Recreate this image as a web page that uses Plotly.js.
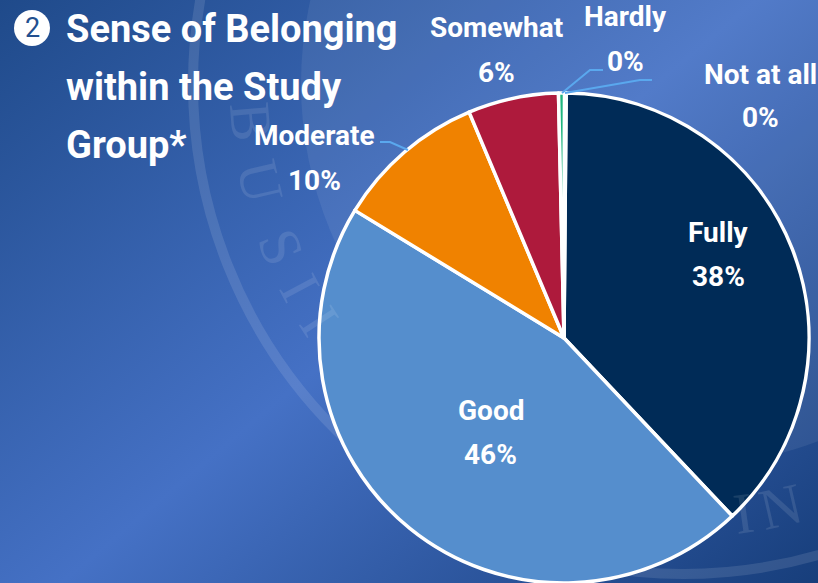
<!DOCTYPE html>
<html>
<head>
<meta charset="utf-8">
<script src="https://cdn.plot.ly/plotly-3.0.1.min.js"></script>
<style>
  html, body { margin: 0; padding: 0; width: 818px; height: 583px; overflow: hidden; }
  body { background: linear-gradient(140deg, #1f4a8a 0%, #4571c5 50%, #173e7b 100%); }
  #chart { width: 818px; height: 583px; }
</style>
</head>
<body>
<div id="chart"></div>
<script>
// Survey responses, clockwise from the top of the pie
const categories = ["Fully", "Good", "Moderate", "Somewhat", "Hardly", "Not at all"];
const shares = [38, 46, 10, 6, 0.4, 0.1];
const sliceColors = ["#002b57", "#558ecd", "#f08200", "#ae1a3c", "#1fb57f", "#e8f0f8"];
const heading = ["Sense of Belonging", "within the Study", "Group*"];
const sealLetters = ["B", "U", "S", "I", "I", "I", "N"];

const W = 818, H = 583;
const FONT = "Roboto, 'Noto Sans', sans-serif";
const px = x => x / W;
const py = y => 1 - y / H;

const textAt = (x, y, text, font, extra) => Object.assign({
  xref: "paper", yref: "paper", x: px(x), y: py(y), showarrow: false,
  xanchor: "center", yanchor: "middle", text, font
}, extra || {});

// Caption centre x, name line y and value line y for each category
const captionAnchors = [[718, 232, 276], [491, 410, 454], [314, 135, 180], [496, 28, 72], [625, 17, 61], [760, 74, 117]];
const labelFont = { family: FONT, size: 28, color: "#ffffff", weight: 700 };

const annotations = [];
categories.forEach((name, i) => {
  const [x, y1, y2] = captionAnchors[i];
  annotations.push(textAt(x, y1, name, labelFont));
  annotations.push(textAt(x, y2, Math.round(shares[i]) + "%", labelFont));
});

const headingLines = [29, 87, 145];
heading.forEach((line, i) => {
  annotations.push(textAt(64, headingLines[i], line,
    { family: FONT, size: 38, color: "#ffffff", weight: 700 }, { xanchor: "left" }));
});

annotations.push(textAt(32, 28, "2", { family: FONT, size: 27, color: "#23508f" }));

// Faint seal: two rings and lettering set around the same centre
const SEAL = { cx: 683, cy: 84, outer: 490, text: 434, inner: 382 };
const letterAngles = [85, 77, 68, 62, 57, -8, -13];
sealLetters.forEach((ch, i) => {
  const a = letterAngles[i] * Math.PI / 180;
  annotations.push(textAt(SEAL.cx - SEAL.text * Math.sin(a), SEAL.cy + SEAL.text * Math.cos(a), ch,
    { family: "'Liberation Serif', serif", size: 58, color: "#ffffff" },
    { textangle: letterAngles[i], opacity: 0.1 }));
});

const ring = (r, width, fill) => ({
  type: "circle", xref: "paper", yref: "paper", layer: "below",
  x0: px(SEAL.cx - r), x1: px(SEAL.cx + r), y0: py(SEAL.cy + r), y1: py(SEAL.cy - r),
  line: { color: "rgba(255,255,255,0.11)", width }, fillcolor: fill
});
const leader = d => ({
  type: "path", xref: "paper", yref: "paper", layer: "above",
  path: d.map((p, i) => (i ? "L" : "M") + px(p[0]) + "," + py(p[1])).join(" "),
  line: { color: "#5aa8ee", width: 2 }
});

const shapes = [
  ring(SEAL.outer, 10, "rgba(0,0,0,0)"),
  ring(SEAL.inner, 0, "rgba(255,255,255,0.07)"),
  {
    type: "circle", xref: "paper", yref: "paper", layer: "below",
    x0: px(14), x1: px(50), y0: py(46), y1: py(10),
    fillcolor: "#ffffff", line: { width: 0 }
  },
  leader([[380, 142], [390, 142], [408, 150]]),
  leader([[603, 70], [590, 70], [562, 93]]),
  leader([[652, 80], [640, 80], [565, 93]])
];

Plotly.newPlot("chart", [{
  type: "pie",
  labels: categories,
  values: shares,
  sort: false,
  direction: "clockwise",
  rotation: 0.5,
  textinfo: "none",
  hoverinfo: "label+percent",
  marker: { colors: sliceColors, line: { color: "#ffffff", width: 3.5 } },
  domain: { x: [318.5 / W, 809.5 / W], y: [0, 1 - 93 / H] }
}], {
  width: W, height: H,
  margin: { l: 0, r: 0, t: 0, b: 0, pad: 0 },
  paper_bgcolor: "rgba(0,0,0,0)",
  plot_bgcolor: "rgba(0,0,0,0)",
  showlegend: false,
  annotations, shapes
}, { displayModeBar: false, staticPlot: true });
</script>
</body>
</html>
